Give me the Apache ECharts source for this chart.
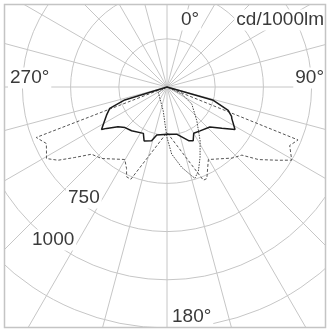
<!DOCTYPE html>
<html>
<head>
<meta charset="utf-8">
<script src="https://cdn.jsdelivr.net/npm/echarts@6/dist/echarts.min.js"></script>
<style>
  html, body { margin: 0; padding: 0; background: #fff; }
  #polarChart { width: 328px; height: 329px; }
</style>
</head>
<body>
<div id="polarChart"></div>
<script>
// C0-C180 plane (solid)
var solidAngles = [90, 106, 111, 114.5, 116, 122, 127, 133, 143, 150, 154, 158, 168, 180, 192, 196, 203, 207, 219, 226, 231, 235.6, 237, 245, 249.5, 253, 270];
var solidValues = [0, 250, 340, 368, 374, 416, 356, 304, 285, 277, 310, 300, 251, 245, 255, 290, 304, 270, 292, 303, 327, 380, 405, 346, 317, 229, 0];

// C90-C270 plane (dashed)
var dashAngles = [90, 112, 115.5, 120.4, 123.3, 128.4, 132.3, 137.5, 150.3, 156.5, 158.7, 180, 201.4, 204.2, 206.4, 210.2, 222.5, 228.3, 232.6, 236.1, 239.3, 241.7, 244.9, 248.9, 270];
var dashValues = [0, 733, 705, 750, 692, 606, 525, 500, 433, 518, 519, 236, 514, 511, 472, 435, 503, 524, 602, 681, 727, 710, 691, 727, 0];

// narrow plane (dotted)
var dotAngles = [90, 115.5, 124.5, 138.6, 148.4, 154.9, 159.5, 163, 164.4, 169.6, 176, 180, 183, 189, 210, 239, 270];
var dotValues = [0, 85, 156, 234, 328, 404, 465, 495, 479, 424, 349, 262, 193, 125, 72, 53, 0];

var ringLabels = ["750", "1000"];
var angleLabels = ["0°", "90°", "180°", "270°"];
var unitLabel = "cd/1000lm";

function pairs(angles, values) {
  return angles.map(function (a, i) {
    return [values[i], a];
  });
}

var gridColor = "#c6c6c6";
var font = '19px "Liberation Sans", Arial, sans-serif';

function label(text, x, y, align) {
  return {
    type: "text",
    x: x,
    y: y,
    z: 100,
    style: {
      text: text,
      font: font,
      fill: "#3a3a3a",
      align: align,
      textAlign: align,
      verticalAlign: "middle",
      textVerticalAlign: "middle",
      backgroundColor: "#fff",
      padding: [1, 2]
    }
  };
}

var myChart = echarts.init(document.getElementById("polarChart"));
myChart.setOption({
  animation: false,
  polar: [
    { center: [167, 87], radius: 300 },
    { center: [167, 87], radius: 241 }
  ],
  angleAxis: [
    {
      polarIndex: 0,
      type: "value",
      min: 0,
      max: 360,
      interval: 15,
      startAngle: 90,
      axisLine: { show: false },
      axisTick: { show: false },
      axisLabel: { show: false },
      splitLine: { show: true, lineStyle: { color: gridColor, width: 1 } }
    },
    {
      polarIndex: 1,
      type: "value",
      min: 0,
      max: 360,
      interval: 90,
      startAngle: 90,
      axisLine: { show: false },
      axisTick: { show: false },
      axisLabel: { show: false },
      splitLine: { show: false }
    }
  ],
  radiusAxis: [
    {
      polarIndex: 0,
      min: 0,
      max: 1,
      axisLine: { show: false },
      axisTick: { show: false },
      axisLabel: { show: false },
      splitLine: { show: false }
    },
    {
      polarIndex: 1,
      min: 0,
      max: 1250,
      interval: 250,
      axisLine: { show: false },
      axisTick: { show: false },
      axisLabel: { show: false },
      splitLine: { show: true, lineStyle: { color: gridColor, width: 1 } }
    }
  ],
  series: [
    {
      type: "line",
      coordinateSystem: "polar",
      polarIndex: 1,
      data: pairs(dashAngles, dashValues),
      symbol: "none",
      lineStyle: { color: "#555", width: 1, type: [3, 2] },
      z: 3
    },
    {
      type: "line",
      coordinateSystem: "polar",
      polarIndex: 1,
      data: pairs(dotAngles, dotValues),
      symbol: "none",
      lineStyle: { color: "#444", width: 1, type: [1.5, 1.2] },
      z: 4
    },
    {
      type: "line",
      coordinateSystem: "polar",
      polarIndex: 1,
      data: pairs(solidAngles, solidValues),
      symbol: "none",
      lineStyle: { color: "#1a1a1a", width: 1.5 },
      z: 5
    }
  ],
  graphic: {
    elements: [
      label(angleLabels[0], 179, 20, "left"),
      label(unitLabel, 326, 20, "right"),
      label(angleLabels[3], 8, 78, "left"),
      label(angleLabels[1], 326, 78, "right"),
      label(ringLabels[0], 66, 198, "left"),
      label(ringLabels[1], 30, 240, "left"),
      label(angleLabels[2], 170, 317, "left"),
      // white outside of the frame
      { type: "rect", z: 110, shape: { x: 0, y: 0, width: 328, height: 4 }, style: { fill: "#fff" } },
      { type: "rect", z: 110, shape: { x: 0, y: 0, width: 4, height: 329 }, style: { fill: "#fff" } },
      { type: "rect", z: 110, shape: { x: 326, y: 0, width: 2, height: 329 }, style: { fill: "#fff" } },
      { type: "rect", z: 110, shape: { x: 0, y: 328, width: 328, height: 1 }, style: { fill: "#fff" } },
      {
        type: "rect",
        z: 120,
        shape: { x: 4.5, y: 4.5, width: 321, height: 323 },
        style: { fill: "none", stroke: "#c4c4c4", lineWidth: 1.5 }
      }
    ]
  }
});
window.addEventListener("resize", function () {
  myChart.resize();
});
</script>
</body>
</html>
